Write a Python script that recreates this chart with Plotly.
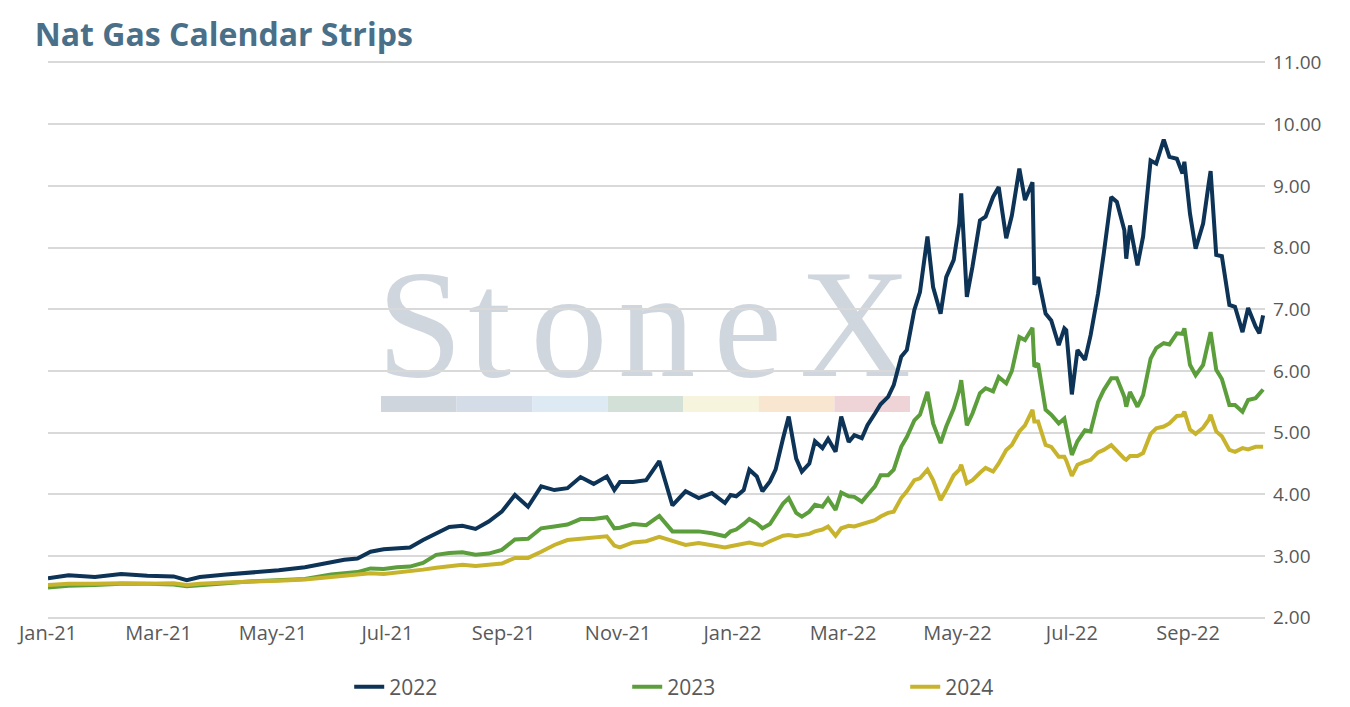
import plotly.graph_objects as go

# Nat gas calendar strip settlements (USD/MMBtu)
dates = [
    "2021-01-04", "2021-01-15", "2021-01-29", "2021-02-12", "2021-02-26",
    "2021-03-12", "2021-03-19", "2021-03-26", "2021-04-09", "2021-04-23",
    "2021-05-07", "2021-05-21", "2021-06-04", "2021-06-11", "2021-06-18",
    "2021-06-25", "2021-07-02", "2021-07-09", "2021-07-16", "2021-07-23",
    "2021-07-30", "2021-08-06", "2021-08-13", "2021-08-20", "2021-08-27",
    "2021-09-03", "2021-09-10", "2021-09-17", "2021-09-24", "2021-10-01",
    "2021-10-08", "2021-10-15", "2021-10-22", "2021-10-29", "2021-11-02",
    "2021-11-05", "2021-11-12", "2021-11-19", "2021-11-26", "2021-12-03",
    "2021-12-10", "2021-12-17", "2021-12-24", "2021-12-31",
    "2022-01-03", "2022-01-06", "2022-01-10", "2022-01-13", "2022-01-17",
    "2022-01-20", "2022-01-24", "2022-01-27", "2022-01-31", "2022-02-03",
    "2022-02-07", "2022-02-10", "2022-02-14", "2022-02-17", "2022-02-21",
    "2022-02-24", "2022-02-28", "2022-03-03", "2022-03-07", "2022-03-10",
    "2022-03-14", "2022-03-17", "2022-03-21", "2022-03-24", "2022-03-28",
    "2022-03-31", "2022-04-04", "2022-04-07", "2022-04-11", "2022-04-14",
    "2022-04-18", "2022-04-21", "2022-04-25", "2022-04-28", "2022-05-02",
    "2022-05-05", "2022-05-06", "2022-05-09", "2022-05-12", "2022-05-16",
    "2022-05-19", "2022-05-23", "2022-05-26", "2022-05-30", "2022-06-02",
    "2022-06-06", "2022-06-09", "2022-06-13", "2022-06-14", "2022-06-16",
    "2022-06-20", "2022-06-23", "2022-06-27", "2022-06-30", "2022-07-01",
    "2022-07-04", "2022-07-07", "2022-07-11", "2022-07-14", "2022-07-18",
    "2022-07-21", "2022-07-25", "2022-07-28", "2022-08-01", "2022-08-02",
    "2022-08-04", "2022-08-08", "2022-08-11", "2022-08-15", "2022-08-18",
    "2022-08-22", "2022-08-25", "2022-08-29", "2022-09-01", "2022-09-02",
    "2022-09-05", "2022-09-08", "2022-09-12", "2022-09-15", "2022-09-16",
    "2022-09-19", "2022-09-22", "2022-09-26", "2022-09-29", "2022-10-03",
    "2022-10-06", "2022-10-10", "2022-10-12", "2022-10-14",
]

cal_2022 = [
    2.64, 2.69, 2.66, 2.71, 2.68, 2.67, 2.61, 2.66, 2.70, 2.73,
    2.77, 2.82, 2.90, 2.94, 2.96, 3.07, 3.11, 3.13, 3.14, 3.26,
    3.36, 3.47, 3.49, 3.44, 3.56, 3.72, 3.99, 3.80, 4.13, 4.07,
    4.10, 4.28, 4.17, 4.29, 4.07, 4.20, 4.20, 4.23, 4.54, 3.82,
    4.05, 3.94, 4.02, 3.86,
    3.99, 3.97, 4.07, 4.40, 4.29, 4.05, 4.21, 4.40, 4.91, 5.26,
    4.58, 4.37, 4.50, 4.86, 4.75, 4.90, 4.69, 5.26, 4.85, 4.96,
    4.91, 5.12, 5.31, 5.46, 5.58, 5.77, 6.23, 6.34, 6.99, 7.28,
    8.18, 7.36, 6.93, 7.52, 7.80, 8.39, 8.88, 7.20, 7.69, 8.44,
    8.50, 8.82, 8.98, 8.15, 8.52, 9.28, 8.77, 9.06, 7.40, 7.52,
    6.93, 6.82, 6.42, 6.69, 6.66, 5.62, 6.34, 6.18, 6.58, 7.26,
    7.90, 8.82, 8.74, 8.28, 7.82, 8.36, 7.71, 8.18, 9.41, 9.36,
    9.75, 9.47, 9.44, 9.20, 9.39, 8.55, 7.98, 8.39, 9.04, 9.24,
    7.88, 7.86, 7.07, 7.04, 6.63, 7.02, 6.72, 6.61, 6.90,
]

cal_2023 = [
    2.49, 2.52, 2.53, 2.55, 2.55, 2.54, 2.51, 2.53, 2.56, 2.59,
    2.61, 2.63, 2.70, 2.72, 2.74, 2.80, 2.79, 2.82, 2.83, 2.89,
    3.02, 3.05, 3.06, 3.02, 3.04, 3.10, 3.27, 3.28, 3.45, 3.48,
    3.51, 3.60, 3.60, 3.63, 3.45, 3.46, 3.52, 3.50, 3.65, 3.40,
    3.40, 3.40, 3.37, 3.32,
    3.40, 3.43, 3.52, 3.60, 3.53, 3.45, 3.52, 3.67, 3.85, 3.94,
    3.70, 3.64, 3.72, 3.83, 3.80, 3.93, 3.75, 4.03, 3.97, 3.96,
    3.88, 3.99, 4.13, 4.31, 4.31, 4.40, 4.77, 4.93, 5.20, 5.29,
    5.66, 5.15, 4.83, 5.10, 5.39, 5.69, 5.85, 5.12, 5.31, 5.64,
    5.72, 5.67, 5.90, 5.80, 6.00, 6.55, 6.50, 6.70, 6.07, 6.12,
    5.37, 5.29, 5.15, 5.23, 5.10, 4.64, 4.86, 5.04, 5.02, 5.50,
    5.69, 5.88, 5.88, 5.58, 5.42, 5.66, 5.42, 5.61, 6.20, 6.37,
    6.45, 6.43, 6.61, 6.60, 6.69, 6.10, 5.93, 6.10, 6.50, 6.63,
    6.02, 5.87, 5.45, 5.45, 5.34, 5.53, 5.56, 5.64, 5.70,
]

cal_2024 = [
    2.53, 2.55, 2.55, 2.56, 2.55, 2.56, 2.53, 2.55, 2.57, 2.58,
    2.60, 2.62, 2.66, 2.68, 2.69, 2.72, 2.71, 2.73, 2.75, 2.78,
    2.81, 2.84, 2.86, 2.84, 2.86, 2.88, 2.97, 2.97, 3.07, 3.18,
    3.26, 3.28, 3.29, 3.32, 3.17, 3.14, 3.22, 3.24, 3.31, 3.24,
    3.18, 3.21, 3.18, 3.14,
    3.16, 3.18, 3.19, 3.22, 3.19, 3.18, 3.24, 3.28, 3.33, 3.34,
    3.32, 3.34, 3.36, 3.40, 3.43, 3.48, 3.33, 3.45, 3.49, 3.48,
    3.52, 3.54, 3.58, 3.64, 3.70, 3.72, 3.94, 4.05, 4.23, 4.26,
    4.40, 4.23, 3.91, 4.07, 4.31, 4.40, 4.48, 4.18, 4.23, 4.35,
    4.43, 4.37, 4.50, 4.72, 4.80, 5.02, 5.12, 5.37, 5.18, 5.18,
    4.80, 4.77, 4.61, 4.61, 4.55, 4.30, 4.48, 4.53, 4.56, 4.68,
    4.72, 4.80, 4.70, 4.58, 4.56, 4.62, 4.62, 4.67, 4.98, 5.07,
    5.10, 5.15, 5.27, 5.28, 5.34, 5.05, 4.98, 5.08, 5.21, 5.29,
    5.02, 4.94, 4.72, 4.69, 4.75, 4.73, 4.77, 4.77, 4.77,
]

series = [
    ("2022", cal_2022, "#0d3356"),
    ("2023", cal_2023, "#5b9e3b"),
    ("2024", cal_2024, "#c8b42c"),
]

# watermark: logo letters and the colour strip under them
logo_letters = ["S", "t", "o", "n", "e", "X"]
logo_centers = [0.3055, 0.363, 0.428, 0.5003, 0.575, 0.6635]
strip_colors = ["#cfd5dd", "#d3dce7", "#dde9f3", "#d3e0d8", "#f6f4dc", "#f9e6d1", "#efd4d7"]

FONT = "Open Sans"
TICK_COLOR = "#595959"

fig = go.Figure()
for name, vals, color in series:
    fig.add_trace(go.Scatter(
        x=dates, y=vals, name=name, mode="lines",
        line=dict(color=color, width=4),
    ))

# letters as shape labels so they sit behind the lines
for letter, xc in zip(logo_letters, logo_centers):
    fig.add_shape(
        type="rect", xref="paper", yref="paper",
        x0=xc - 0.04, x1=xc + 0.04, y0=0.458, y1=0.658,
        line=dict(width=0), fillcolor="rgba(0,0,0,0)", layer="below",
        label=dict(text=letter, textposition="middle center",
                   font=dict(family="Liberation Serif", size=154, color="#cfd6de")),
    )
seg = 0.0621
for i, c in enumerate(strip_colors):
    fig.add_shape(
        type="rect", xref="paper", yref="paper",
        x0=0.2736 + i * seg, x1=0.2736 + (i + 1) * seg, y0=0.3705, y1=0.399,
        line=dict(width=0), fillcolor=c, layer="below",
    )

# the page adds an 8px body margin, so the plot box is offset by that much
fig.update_layout(
    width=1350, height=707,
    margin=dict(l=40, r=93, t=51.5, b=95.8, autoexpand=False),
    paper_bgcolor="white", plot_bgcolor="white",
    font=dict(family=FONT, color=TICK_COLOR),
    title=dict(
        text="Nat Gas Calendar Strips", x=0.0198, xanchor="left",
        y=0.962, yanchor="middle", xref="container", yref="container",
        font=dict(family=FONT, size=32, color="#4a6f88", weight="bold"),
    ),
    showlegend=True,
    legend=dict(
        orientation="h", x=0.2475, xanchor="left", y=-0.122, yanchor="middle",
        entrywidth=233, entrywidthmode="pixels",
        font=dict(family=FONT, size=21, color=TICK_COLOR),
    ),
    hovermode="x unified",
)

fig.update_xaxes(
    type="date", range=["2021-01-04", "2022-10-15"],
    tick0="2021-01-04", dtick="M2", tickformat="%b-%y",
    showgrid=False, zeroline=False, showline=False, ticks="",
    tickfont=dict(family=FONT, size=20, color=TICK_COLOR),
)
fig.update_yaxes(
    side="right", range=[1.98, 11.04], dtick=1, tick0=0, tickformat=".2f",
    showgrid=True, gridcolor="#d9d9d9", gridwidth=1.5,
    zeroline=False, showline=False, ticks="", ticklabelstandoff=7,
    tickfont=dict(family=FONT, size=19, color=TICK_COLOR),
)

fig.write_html("out.html")
